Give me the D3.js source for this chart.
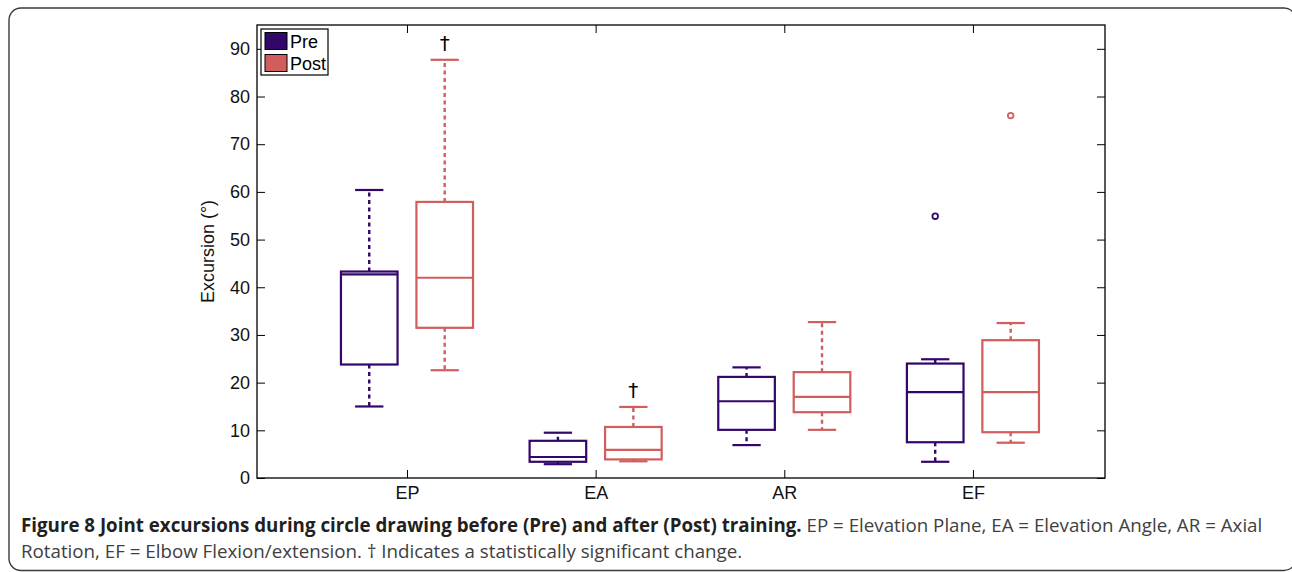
<!DOCTYPE html>
<html>
<head>
<meta charset="utf-8">
<script src="https://cdn.jsdelivr.net/npm/d3@7"></script>
<style>
  html, body { margin: 0; padding: 0; background: #fff; }
  svg { display: block; }
</style>
</head>
<body>
<svg id="chart" width="1292" height="572"></svg>
<script>
// ---- data ----
const categories = ["EP", "EA", "AR", "EF"];
const groups = ["Pre", "Post"];
const yTicks = [0, 10, 20, 30, 40, 50, 60, 70, 80, 90];

const preLow      = [15.0, 2.9, 6.9, 3.4];
const preQ1       = [23.8, 3.4, 10.1, 7.5];
const preMedian   = [42.7, 4.4, 16.1, 18.0];
const preQ3       = [43.3, 7.8, 21.2, 24.0];
const preHigh     = [60.4, 9.5, 23.2, 24.9];
const preOutliers = [[], [], [], [54.9]];

const postLow      = [22.6, 3.5, 10.1, 7.4];
const postQ1       = [31.5, 3.9, 13.8, 9.6];
const postMedian   = [42.0, 5.9, 17.0, 18.0];
const postQ3       = [57.9, 10.7, 22.2, 28.9];
const postHigh     = [87.7, 14.9, 32.7, 32.5];
const postOutliers = [[], [], [], [76.0]];

const postSignificant = [true, true, false, false];

const yLabel = "Excursion (°)";
const captionBold = "Figure 8 Joint excursions during circle drawing before (Pre) and after (Post) training.";
const captionRest1 = " EP = Elevation Plane, EA = Elevation Angle, AR = Axial";
const captionLine2 = "Rotation, EF = Elbow Flexion/extension. † Indicates a statistically significant change.";

// ---- build ----
(function () {
const colors = { Pre: "#33066a", Post: "#d15d5d" };
const svg = d3.select("#chart");
const plot = { left: 257, right: 1105, top: 25, bottom: 478 };
const tickFont = "'Liberation Sans', Arial, Helvetica, sans-serif";

// outer rounded frame
svg.append("rect")
  .attr("x", 9).attr("y", 8)
  .attr("width", 1287).attr("height", 562.5)
  .attr("rx", 12).attr("ry", 12)
  .attr("fill", "none").attr("stroke", "#3a3a3a").attr("stroke-width", 1.4);

const x = d3.scaleLinear().domain([0.205, 4.70]).range([plot.left, plot.right]);
const y = d3.scaleLinear().domain([0, 95]).range([plot.bottom, plot.top]);

const stats = {
  Pre:  categories.map((c, i) => ({ cat: c, i, low: preLow[i], q1: preQ1[i], med: preMedian[i], q3: preQ3[i], high: preHigh[i], out: preOutliers[i], sig: false })),
  Post: categories.map((c, i) => ({ cat: c, i, low: postLow[i], q1: postQ1[i], med: postMedian[i], q3: postQ3[i], high: postHigh[i], out: postOutliers[i], sig: postSignificant[i] }))
};

const groupOffset = { Pre: -0.2, Post: 0.2 };
const boxHalf = 0.15;   // in category units
const capHalf = 0.075;

// axes
const gAxes = svg.append("g").attr("font-family", tickFont);

const axLeft = gAxes.append("g").attr("transform", `translate(${plot.left},0)`)
  .call(d3.axisLeft(y).tickValues(yTicks).tickSizeInner(-8).tickSizeOuter(0).tickPadding(7));
const axRight = gAxes.append("g").attr("transform", `translate(${plot.right},0)`)
  .call(d3.axisRight(y).tickValues(yTicks).tickSizeInner(-8).tickSizeOuter(0).tickFormat(""));
const axBottom = gAxes.append("g").attr("transform", `translate(0,${plot.bottom})`)
  .call(d3.axisBottom(x).tickValues([1, 2, 3, 4]).tickFormat(d => categories[d - 1]).tickSizeInner(-8).tickSizeOuter(0).tickPadding(8));
const axTop = gAxes.append("g").attr("transform", `translate(0,${plot.top})`)
  .call(d3.axisTop(x).tickValues([1, 2, 3, 4]).tickSizeInner(-8).tickSizeOuter(0).tickFormat(""));

[axLeft, axRight, axBottom, axTop].forEach(g => {
  g.select(".domain").remove();
  g.selectAll(".tick line").attr("stroke", "#000").attr("stroke-width", 1);
  g.selectAll(".tick text").attr("font-size", 18).attr("fill", "#111").attr("font-family", tickFont);
});

gAxes.append("rect")
  .attr("x", plot.left).attr("y", plot.top)
  .attr("width", plot.right - plot.left).attr("height", plot.bottom - plot.top)
  .attr("fill", "none").attr("stroke", "#000").attr("stroke-width", 1.3);

// y label
svg.append("text")
  .attr("transform", `translate(214,${(plot.top + plot.bottom) / 2}) rotate(-90)`)
  .attr("text-anchor", "middle")
  .attr("font-family", tickFont).attr("font-size", 18).attr("fill", "#111")
  .text(yLabel);

// boxes
groups.forEach(gname => {
  const col = colors[gname];
  const g = svg.append("g").attr("class", "group-" + gname);
  const items = g.selectAll("g.box").data(stats[gname]).join("g").attr("class", "box");
  const cx = d => x(d.i + 1 + groupOffset[gname]);
  const hw = x(boxHalf) - x(0);
  const cw = x(capHalf) - x(0);

  items.append("line")
    .attr("x1", cx).attr("x2", cx)
    .attr("y1", d => y(d.q3)).attr("y2", d => y(d.high))
    .attr("stroke", col).attr("stroke-width", 2.4).attr("stroke-dasharray", "4,3.5");
  items.append("line")
    .attr("x1", cx).attr("x2", cx)
    .attr("y1", d => y(d.q1)).attr("y2", d => y(d.low))
    .attr("stroke", col).attr("stroke-width", 2.4).attr("stroke-dasharray", "4,3.5");
  items.append("line")
    .attr("x1", d => cx(d) - cw).attr("x2", d => cx(d) + cw)
    .attr("y1", d => y(d.high)).attr("y2", d => y(d.high))
    .attr("stroke", col).attr("stroke-width", 2.2);
  items.append("line")
    .attr("x1", d => cx(d) - cw).attr("x2", d => cx(d) + cw)
    .attr("y1", d => y(d.low)).attr("y2", d => y(d.low))
    .attr("stroke", col).attr("stroke-width", 2.2);
  items.append("rect")
    .attr("x", d => cx(d) - hw).attr("width", 2 * hw)
    .attr("y", d => y(d.q3)).attr("height", d => y(d.q1) - y(d.q3))
    .attr("fill", "none").attr("stroke", col).attr("stroke-width", 2.2);
  items.append("line")
    .attr("x1", d => cx(d) - hw).attr("x2", d => cx(d) + hw)
    .attr("y1", d => y(d.med)).attr("y2", d => y(d.med))
    .attr("stroke", col).attr("stroke-width", 2.2);
  items.selectAll("circle").data(d => d.out.map(v => ({ v, d }))).join("circle")
    .attr("cx", o => cx(o.d)).attr("cy", o => y(o.v)).attr("r", 2.8)
    .attr("fill", "none").attr("stroke", col).attr("stroke-width", 1.8);
  items.filter(d => d.sig).append("text")
    .attr("x", cx).attr("y", d => y(d.high) - 10)
    .attr("text-anchor", "middle")
    .attr("font-family", "'DejaVu Sans', sans-serif").attr("font-size", 20).attr("fill", "#000")
    .text("†");
});

// legend
const leg = svg.append("g").attr("font-family", tickFont);
leg.append("rect").attr("x", 261).attr("y", 29).attr("width", 67).attr("height", 46)
  .attr("fill", "#fff").attr("stroke", "#000").attr("stroke-width", 1.2);
groups.forEach((gname, k) => {
  leg.append("rect").attr("x", 265).attr("y", 32.5 + k * 22).attr("width", 22).attr("height", 17)
    .attr("fill", colors[gname]).attr("stroke", "#000").attr("stroke-width", 1);
  leg.append("text").attr("x", 290).attr("y", 48 + k * 22)
    .attr("font-size", 18).attr("fill", "#000").text(gname);
});

// caption
const capFont = "'Open Sans', 'Noto Sans', sans-serif";
const cap = svg.append("g").attr("font-family", capFont).style("font-stretch", "93.75%");
const t1 = cap.append("text").attr("x", 21).attr("y", 532).attr("font-size", 18);
t1.append("tspan").attr("font-weight", "bold").attr("fill", "#231f20").text(captionBold);
t1.append("tspan").attr("fill", "#404040").text(captionRest1);
const t2 = cap.append("text").attr("x", 21).attr("y", 558).attr("font-size", 18)
  .attr("fill", "#404040").text(captionLine2);
const targetW = 1242;
const w1 = t1.node().getComputedTextLength();
const fs = 18 * targetW / w1;
t1.attr("font-size", fs);
t2.attr("font-size", fs);
})();
</script>
</body>
</html>
